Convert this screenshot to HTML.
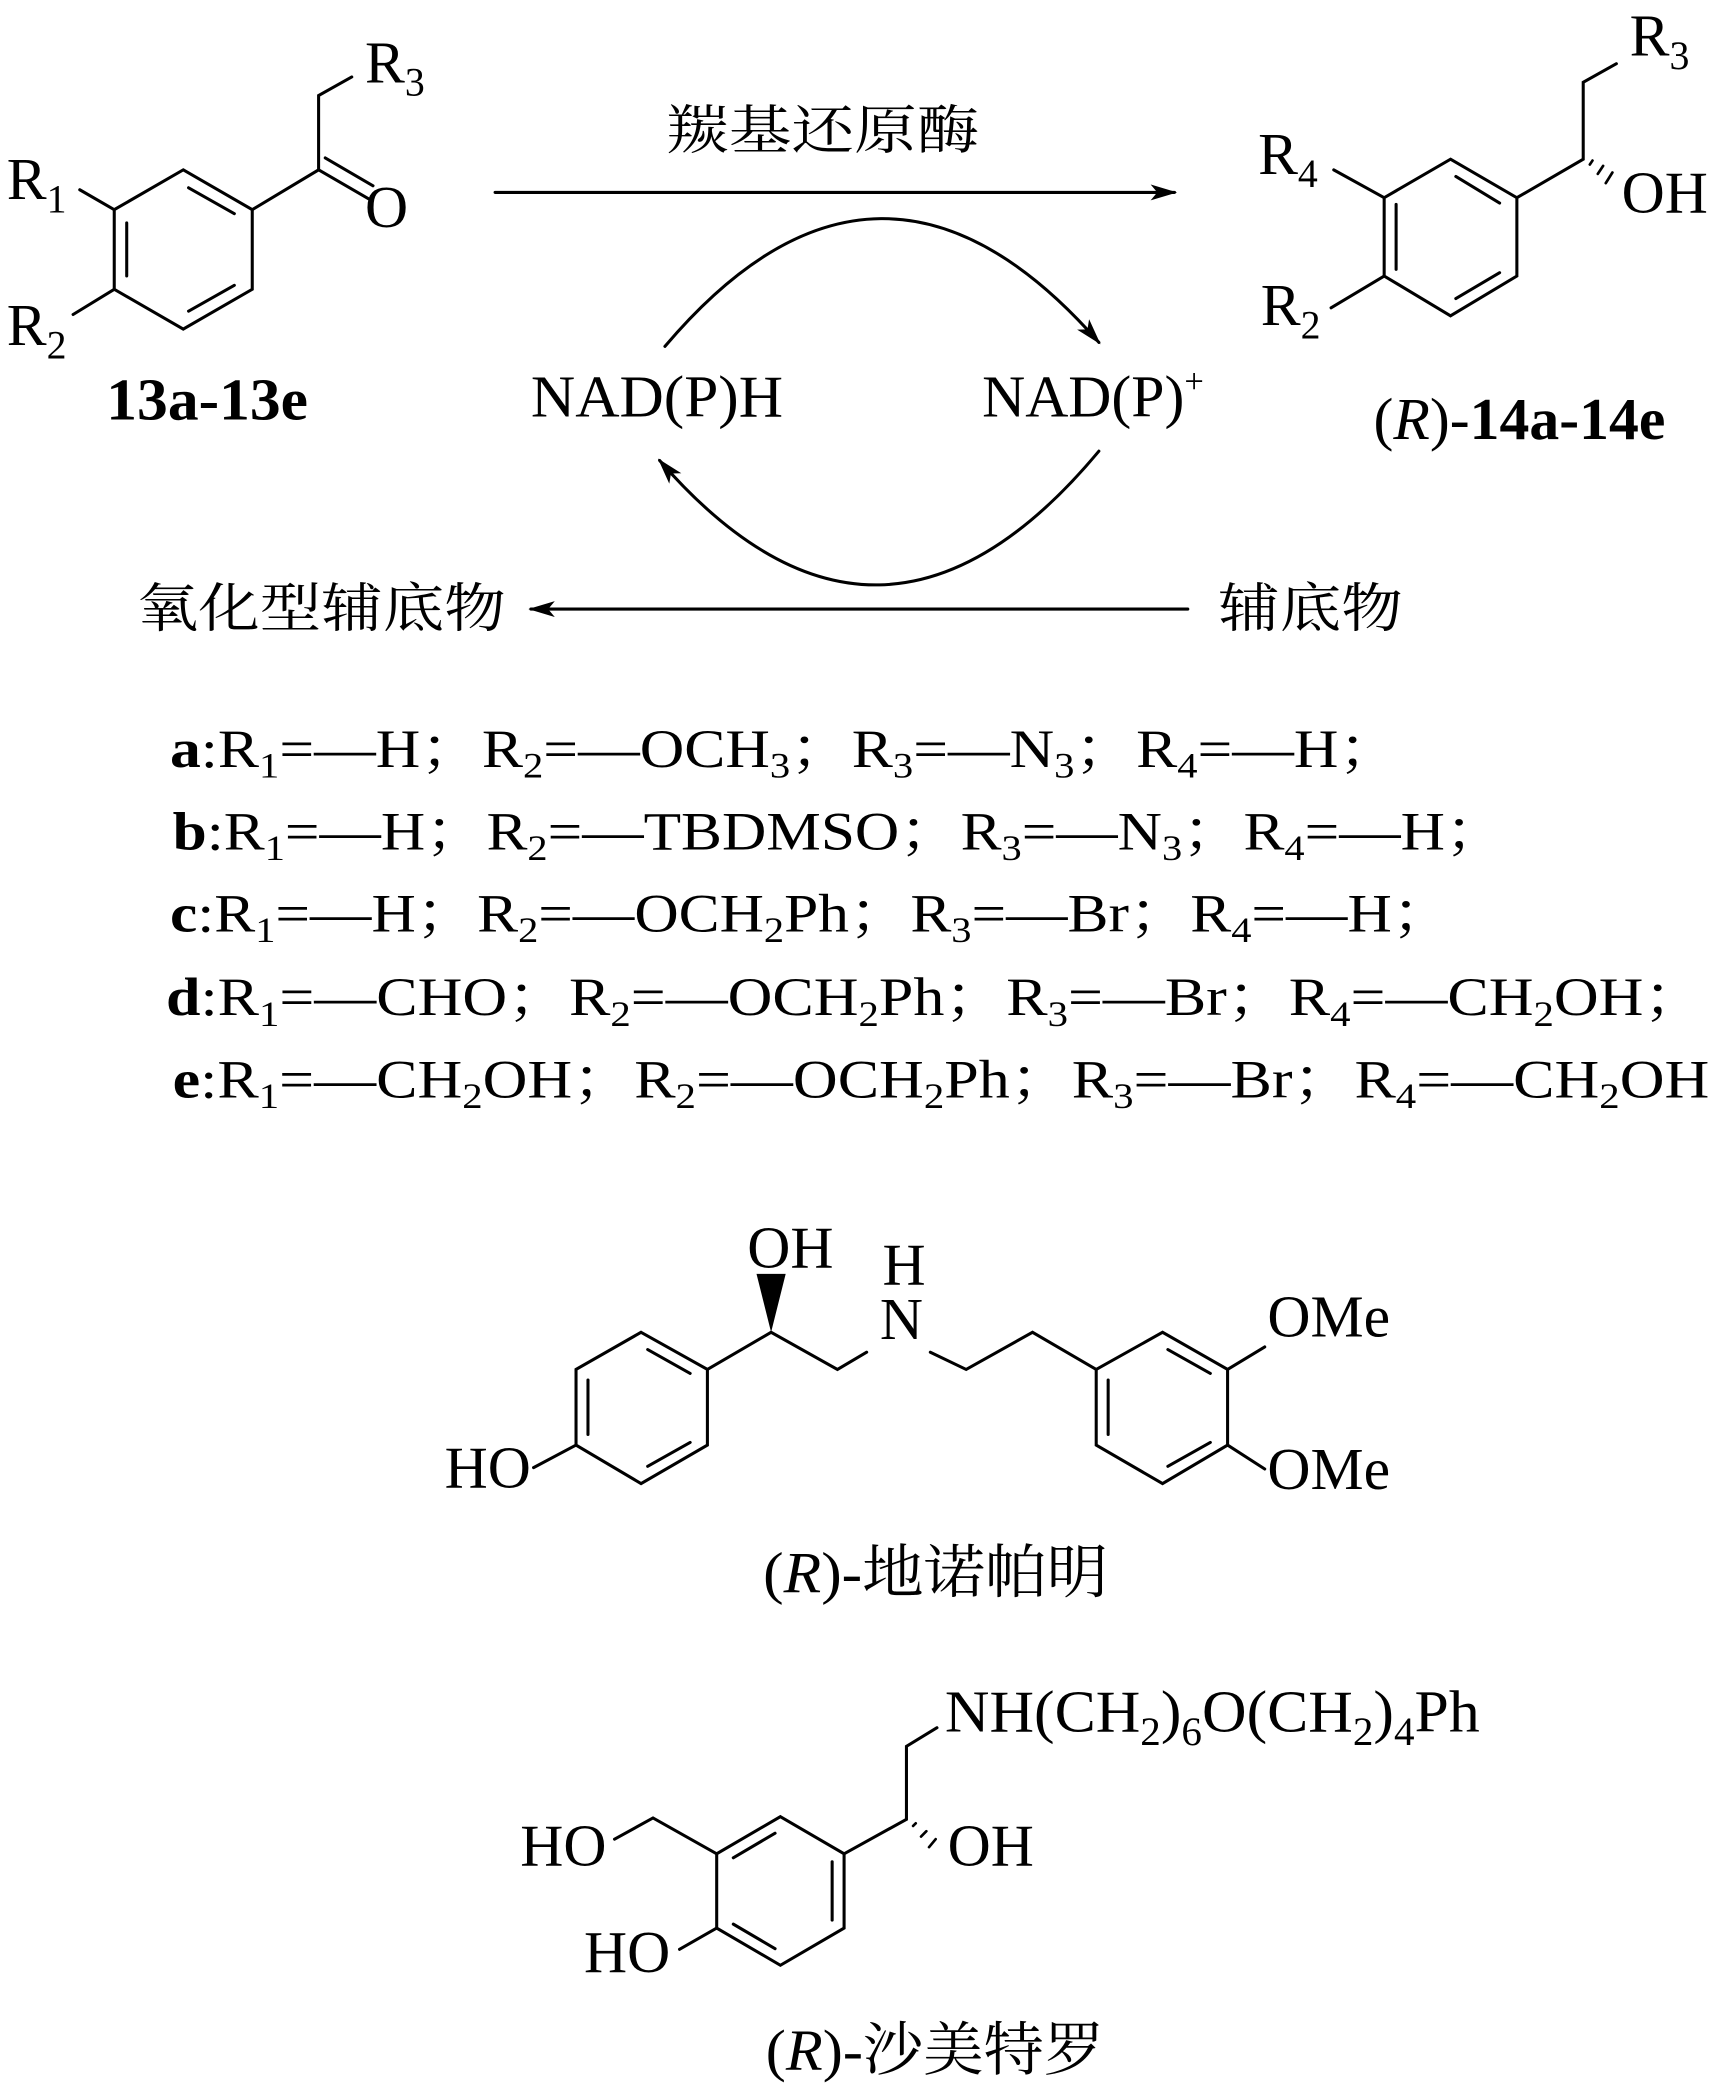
<!DOCTYPE html>
<html><head><meta charset="utf-8"><style>
html,body{margin:0;padding:0;background:#fff}
svg{display:block}
text{font-family:"Liberation Serif","Noto Serif CJK SC",serif;fill:#000}
.cjk{font-family:"Noto Serif CJK SC","Noto Sans CJK SC",serif}
</style></head><body>
<svg width="1724" height="2090" viewBox="0 0 1299 1575" xmlns="http://www.w3.org/2000/svg">
<defs>
<marker id="ah" viewBox="0 0 20 12" refX="18" refY="6" markerWidth="20" markerHeight="12" markerUnits="userSpaceOnUse" orient="auto">
<path d="M0,0 L20,6 L0,12 L5,6 Z" fill="#000"/></marker>
</defs>
<g stroke="#000" stroke-width="2.3" fill="none" stroke-linecap="round">
<polygon points="138,128 190,158 190,218 138,248 86,218 86,158"/>
<line x1="142" y1="141.5" x2="176.5" y2="161"/>
<line x1="95.4" y1="168" x2="95.4" y2="208"/>
<line x1="176.5" y1="215" x2="142" y2="234.5"/>
<polyline points="190,158 240,128 240,72 265,58"/>
<line x1="240" y1="128" x2="278" y2="150"/>
<line x1="245" y1="119" x2="281" y2="140"/>
<line x1="86" y1="158" x2="60" y2="143"/>
<line x1="86" y1="218" x2="55" y2="237"/>
<line x1="373" y1="145" x2="885" y2="145" marker-end="url(#ah)"/>
<line x1="895" y1="459" x2="400" y2="459" marker-end="url(#ah)"/>
<path d="M501,261 Q663,70 828,258" marker-end="url(#ah)"/>
<path d="M828,340 Q663,538 497,347" marker-end="url(#ah)"/>
<polygon points="1093,120 1143,149 1143,208 1093,238 1043,208 1043,149"/>
<line x1="1097" y1="133" x2="1130" y2="153"/>
<line x1="1052" y1="154" x2="1052" y2="203"/>
<line x1="1130" y1="205.5" x2="1097" y2="225"/>
<polyline points="1143,149 1193,120 1193,62 1218,48"/>
<line x1="1043" y1="149" x2="1005" y2="128"/>
<line x1="1043" y1="208" x2="1003" y2="232"/>
<g stroke-width="2">
<line x1="1198" y1="124" x2="1200" y2="121"/>
<line x1="1204" y1="131" x2="1208" y2="125"/>
<line x1="1210" y1="138" x2="1215" y2="130"/>
</g>
<polygon points="483,1004 533,1032 533,1089 483,1118 434,1089 434,1032"/>
<line x1="443" y1="1040" x2="443" y2="1081"/>
<line x1="488" y1="1017" x2="520" y2="1035"/>
<line x1="520" y1="1087" x2="488" y2="1105"/>
<line x1="434" y1="1089" x2="402" y2="1106"/>
<polyline points="533,1032 581,1004 631,1032 653,1019"/>
<polyline points="701,1019 728,1032 778,1004 826,1032"/>
<polygon points="826,1032 876,1004 925,1032 925,1089 876,1118 826,1089"/>
<line x1="880" y1="1017" x2="912" y2="1035"/>
<line x1="835" y1="1040" x2="835" y2="1081"/>
<line x1="912" y1="1087" x2="880" y2="1105"/>
<line x1="925" y1="1032" x2="953" y2="1015"/>
<line x1="925" y1="1089" x2="953" y2="1107"/>
<polygon points="588,1369 636,1397 636,1453 588,1481 540,1453 540,1397"/>
<line x1="584" y1="1381.5" x2="552.5" y2="1400"/>
<line x1="627" y1="1403" x2="627" y2="1447"/>
<line x1="552.5" y1="1450" x2="584" y2="1468.5"/>
<polyline points="636,1397 683,1371 683,1316 706,1302"/>
<polyline points="540,1397 492,1370 463,1386"/>
<line x1="540" y1="1453" x2="512" y2="1469"/>
<g stroke-width="2">
<line x1="688" y1="1376" x2="690" y2="1374"/>
<line x1="694" y1="1384" x2="698" y2="1380"/>
<line x1="700" y1="1392" x2="705" y2="1386"/>
</g>
</g>
<polygon points="581,1004 570,960 592,960" fill="#000"/>

<g font-size="45">
<text x="275" y="62">R<tspan font-size="30" dy="10">3</tspan></text>
<text x="275" y="171">O</text>
<text x="5" y="150">R<tspan font-size="30" dy="10">1</tspan></text>
<text x="5" y="260">R<tspan font-size="30" dy="10">2</tspan></text>
<text x="80" y="316" font-weight="bold" textLength="152" lengthAdjust="spacingAndGlyphs">13a-13e</text>
<text class="cjk" x="502" y="112" font-size="40" textLength="236" lengthAdjust="spacingAndGlyphs">羰基还原酶</text>
<text x="400" y="314" textLength="190" lengthAdjust="spacingAndGlyphs">NAD(P)H</text>
<text x="740" y="314">NAD(P)<tspan font-size="26" dy="-18">+</tspan></text>
<text class="cjk" x="103" y="472" font-size="40" textLength="278" lengthAdjust="spacingAndGlyphs">氧化型辅底物</text>
<text class="cjk" x="918" y="472" font-size="40" textLength="139" lengthAdjust="spacingAndGlyphs">辅底物</text>
<text x="1228" y="42">R<tspan font-size="30" dy="10">3</tspan></text>
<text x="948" y="131">R<tspan font-size="30" dy="10">4</tspan></text>
<text x="1222" y="160">OH</text>
<text x="950" y="245">R<tspan font-size="30" dy="10">2</tspan></text>
<text x="1035" y="331">(<tspan font-style="italic">R</tspan>)-<tspan font-weight="bold">14a-14e</tspan></text>
</g>

<g font-size="41">
<text x="128" y="578" textLength="927" lengthAdjust="spacingAndGlyphs"><tspan font-weight="bold">a</tspan>:R<tspan font-size="27" dy="8">1</tspan><tspan dy="-8">=—H；R</tspan><tspan font-size="27" dy="8">2</tspan><tspan dy="-8">=—OCH</tspan><tspan font-size="27" dy="8">3</tspan><tspan dy="-8">；R</tspan><tspan font-size="27" dy="8">3</tspan><tspan dy="-8">=—N</tspan><tspan font-size="27" dy="8">3</tspan><tspan dy="-8">；R</tspan><tspan font-size="27" dy="8">4</tspan><tspan dy="-8">=—H；</tspan></text>
<text x="130" y="640" textLength="1005" lengthAdjust="spacingAndGlyphs"><tspan font-weight="bold">b</tspan>:R<tspan font-size="27" dy="8">1</tspan><tspan dy="-8">=—H；R</tspan><tspan font-size="27" dy="8">2</tspan><tspan dy="-8">=—TBDMSO；R</tspan><tspan font-size="27" dy="8">3</tspan><tspan dy="-8">=—N</tspan><tspan font-size="27" dy="8">3</tspan><tspan dy="-8">；R</tspan><tspan font-size="27" dy="8">4</tspan><tspan dy="-8">=—H；</tspan></text>
<text x="128" y="702" textLength="967" lengthAdjust="spacingAndGlyphs"><tspan font-weight="bold">c</tspan>:R<tspan font-size="27" dy="8">1</tspan><tspan dy="-8">=—H；R</tspan><tspan font-size="27" dy="8">2</tspan><tspan dy="-8">=—OCH</tspan><tspan font-size="27" dy="8">2</tspan><tspan dy="-8">Ph；R</tspan><tspan font-size="27" dy="8">3</tspan><tspan dy="-8">=—Br；R</tspan><tspan font-size="27" dy="8">4</tspan><tspan dy="-8">=—H；</tspan></text>
<text x="125" y="765" textLength="1160" lengthAdjust="spacingAndGlyphs"><tspan font-weight="bold">d</tspan>:R<tspan font-size="27" dy="8">1</tspan><tspan dy="-8">=—CHO；R</tspan><tspan font-size="27" dy="8">2</tspan><tspan dy="-8">=—OCH</tspan><tspan font-size="27" dy="8">2</tspan><tspan dy="-8">Ph；R</tspan><tspan font-size="27" dy="8">3</tspan><tspan dy="-8">=—Br；R</tspan><tspan font-size="27" dy="8">4</tspan><tspan dy="-8">=—CH</tspan><tspan font-size="27" dy="8">2</tspan><tspan dy="-8">OH；</tspan></text>
<text x="130" y="827" textLength="1158" lengthAdjust="spacingAndGlyphs"><tspan font-weight="bold">e</tspan>:R<tspan font-size="27" dy="8">1</tspan><tspan dy="-8">=—CH</tspan><tspan font-size="27" dy="8">2</tspan><tspan dy="-8">OH；R</tspan><tspan font-size="27" dy="8">2</tspan><tspan dy="-8">=—OCH</tspan><tspan font-size="27" dy="8">2</tspan><tspan dy="-8">Ph；R</tspan><tspan font-size="27" dy="8">3</tspan><tspan dy="-8">=—Br；R</tspan><tspan font-size="27" dy="8">4</tspan><tspan dy="-8">=—CH</tspan><tspan font-size="27" dy="8">2</tspan><tspan dy="-8">OH</tspan></text>
</g>

<g font-size="45">
<text x="563" y="955">OH</text>
<text x="665" y="968">H</text>
<text x="663" y="1009">N</text>
<text x="955" y="1007">OMe</text>
<text x="955" y="1122">OMe</text>
<text x="335" y="1121">HO</text>
<text x="575" y="1200" font-size="44" textLength="260" lengthAdjust="spacingAndGlyphs">(<tspan font-style="italic">R</tspan>)-<tspan class="cjk">地诺帕明</tspan></text>
<text x="712" y="1305" textLength="403" lengthAdjust="spacingAndGlyphs">NH(CH<tspan font-size="30" dy="10">2</tspan><tspan dy="-10">)</tspan><tspan font-size="30" dy="10">6</tspan><tspan dy="-10">O(CH</tspan><tspan font-size="30" dy="10">2</tspan><tspan dy="-10">)</tspan><tspan font-size="30" dy="10">4</tspan><tspan dy="-10">Ph</tspan></text>
<text x="714" y="1406">OH</text>
<text x="392" y="1406">HO</text>
<text x="440" y="1486">HO</text>
<text x="577" y="1560" font-size="44" textLength="255" lengthAdjust="spacingAndGlyphs">(<tspan font-style="italic">R</tspan>)-<tspan class="cjk">沙美特罗</tspan></text>
</g>
</svg>
</body></html>
